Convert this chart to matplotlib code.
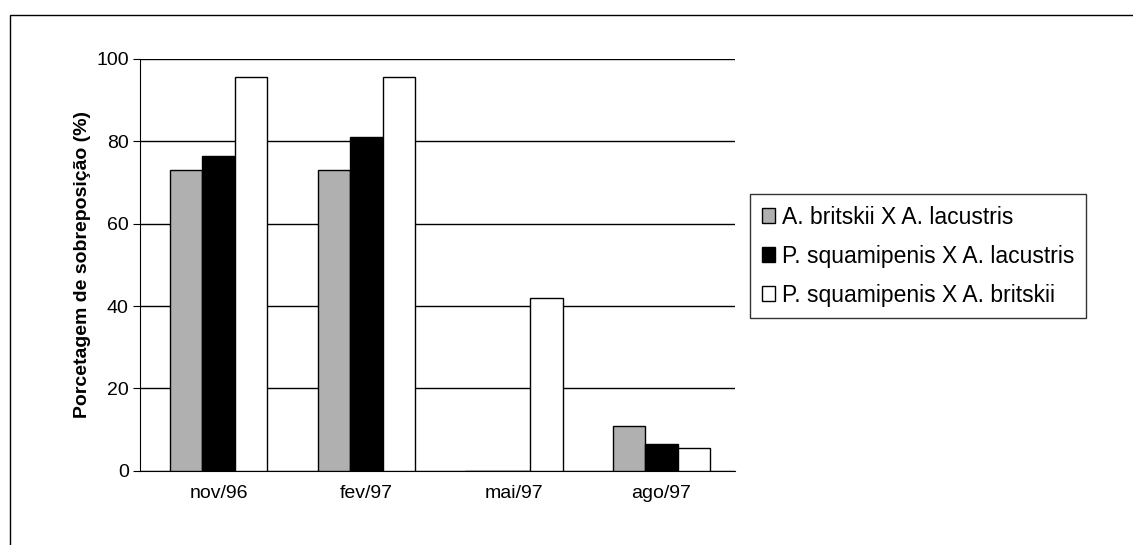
import numpy as np
import matplotlib.pyplot as plt
from matplotlib.patches import Rectangle

plt.rcParams['font.family'] = ['Liberation Sans', 'DejaVu Sans']

categories = ['nov/96', 'fev/97', 'mai/97', 'ago/97']
series_names = ['A. britskii X A. lacustris',
                'P. squamipenis X A. lacustris',
                'P. squamipenis X A. britskii']
britskii_lacustris = [73, 73, 0, 11]
squamipenis_lacustris = [76.5, 81, 0, 6.5]
squamipenis_britskii = [95.5, 95.5, 42, 5.5]
colors = ['#b0b0b0', '#000000', '#ffffff']

fig = plt.figure(figsize=(11.33, 5.45), dpi=100)
ax = fig.add_axes([0.124, 0.136, 0.525, 0.756])
fig.patches.append(Rectangle((0.009, -0.1), 1.1, 1.072, transform=fig.transFigure,
                             fill=False, edgecolor='black', lw=1))

x = np.arange(len(categories))
w = 0.22
for i, (vals, c) in enumerate(zip([britskii_lacustris, squamipenis_lacustris,
                                   squamipenis_britskii], colors)):
    ax.bar(x + (i - 1) * w, vals, w, color=c, edgecolor='black', lw=1,
           label=series_names[i], zorder=3)

ax.set_xlim(-0.53, 3.5)
ax.set_ylim(0, 100)
ax.set_yticks(range(0, 101, 20))
ax.set_xticks(x)
ax.set_xticklabels(categories, fontsize=14)
ax.tick_params(axis='y', labelsize=14, length=5)
ax.tick_params(axis='x', length=0, pad=10)
ax.yaxis.grid(True, color='black', lw=1, zorder=0)
ax.spines['top'].set_visible(False)
ax.spines['right'].set_visible(False)
ax.set_ylabel('Porcetagem de sobreposição (%)', fontsize=14, fontweight='bold')

leg = fig.legend(loc='center left', bbox_to_anchor=(0.662, 0.53), fontsize=16.5,
                 frameon=True, fancybox=False, edgecolor='black',
                 handlelength=0.6, handleheight=0.6, handletextpad=0.3,
                 borderaxespad=0, labelspacing=0.7, borderpad=0.5)
leg.get_frame().set_linewidth(1)

fig.savefig('out.png')
